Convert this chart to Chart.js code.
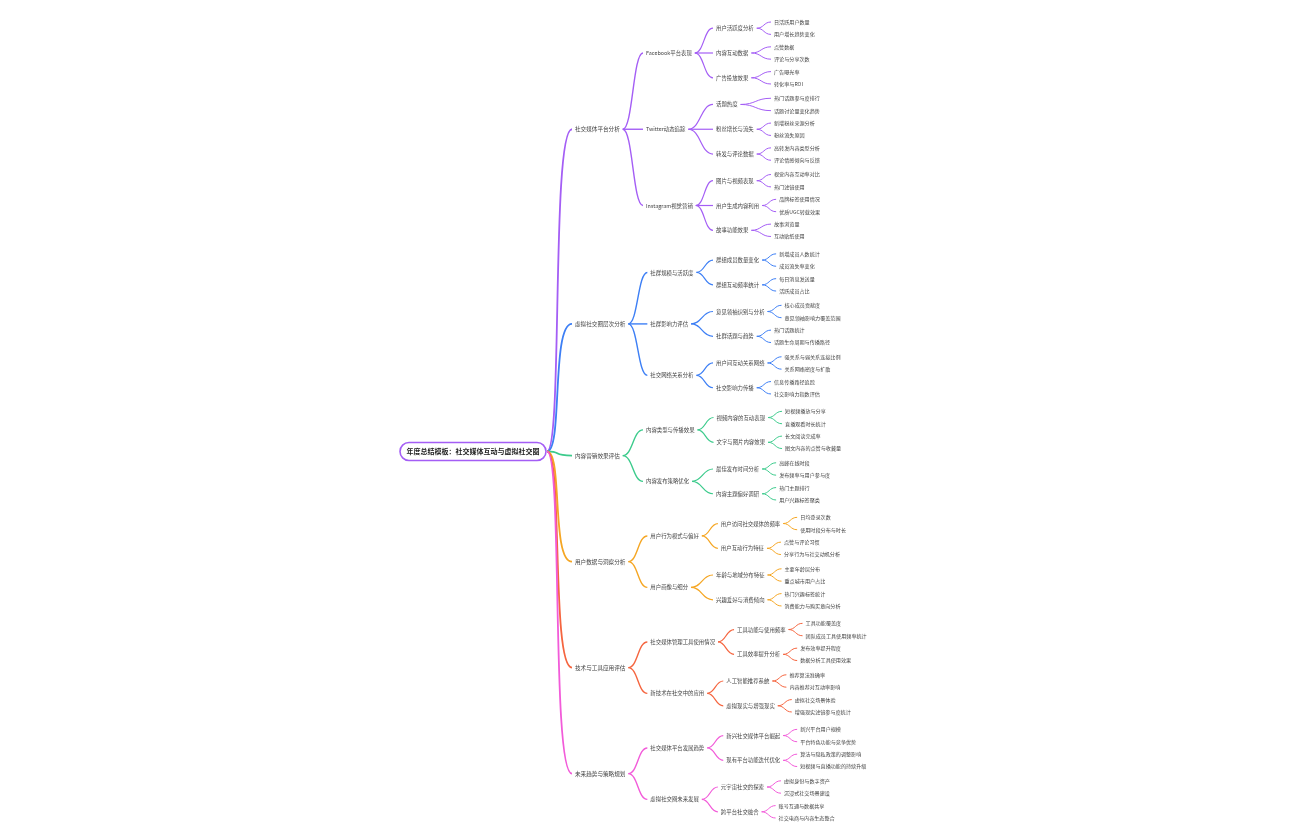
<!DOCTYPE html>
<html><head><meta charset="utf-8">
<script src="https://cdn.jsdelivr.net/npm/chart.js@4.4.1/dist/chart.umd.min.js"></script>
<style>html,body{margin:0;padding:0;background:#fff}#wrap{width:1297px;height:840px}</style>
</head><body><div id="wrap"><canvas id="c"></canvas></div>
<script>
const rootLabel = "年度总结模板：社交媒体互动与虚拟社交圈";
const branchLabels = ["社交媒体平台分析","虚拟社交圈层次分析","内容营销效果评估","用户数据与洞察分析","技术与工具应用评估","未来趋势与策略规划"];
const branchColors = ["#a45ef5","#3d7ff5","#3ccb8c","#f5a623","#f5653f","#f25bd9"];
const level2Labels = [
 ["Facebook平台表现","Twitter动态追踪","Instagram视觉营销"],
 ["社群规模与活跃度","社群影响力评估","社交网络关系分析"],
 ["内容类型与传播效果","内容发布策略优化"],
 ["用户行为模式与偏好","用户画像与细分"],
 ["社交媒体管理工具使用情况","新技术在社交中的应用"],
 ["社交媒体平台发展趋势","虚拟社交圈未来发展"]
];
const level3Labels = [
 [["用户活跃度分析","内容互动数据","广告投放效果"],["话题热度","粉丝增长与流失","转发与评论数据"],["图片与视频表现","用户生成内容利用","故事功能效果"]],
 [["群组成员数量变化","群组互动频率统计"],["意见领袖识别与分析","社群话题与趋势"],["用户间互动关系网络","社交影响力传播"]],
 [["视频内容的互动表现","文字与图片内容效果"],["最佳发布时间分析","内容主题偏好调研"]],
 [["用户访问社交媒体的频率","用户互动行为特征"],["年龄与地域分布特征","兴趣爱好与消费倾向"]],
 [["工具功能与使用频率","工具效率提升分析"],["人工智能推荐系统","虚拟现实与增强现实"]],
 [["新兴社交媒体平台崛起","现有平台功能迭代优化"],["元宇宙社交的探索","跨平台社交融合"]]
];
const leafLabels = [
 [[["日活跃用户数量","用户增长趋势变化"],["点赞数据","评论与分享次数"],["广告曝光率","转化率与ROI"]],
  [["热门话题参与度排行","话题讨论量变化趋势"],["新增粉丝来源分析","粉丝流失原因"],["高转发内容类型分析","评论情感倾向与反馈"]],
  [["视觉内容互动率对比","热门滤镜使用"],["品牌标签使用情况","优质UGC转载效果"],["故事浏览量","互动贴纸使用"]]],
 [[["新增成员人数统计","成员流失率变化"],["每日消息发送量","活跃成员占比"]],
  [["核心成员贡献度","意见领袖影响力覆盖范围"],["热门话题统计","话题生命周期与传播路径"]],
  [["强关系与弱关系连接比例","关系网络密度与扩散"],["信息传播路径追踪","社交影响力指数评估"]]],
 [[["短视频播放与分享","直播观看时长统计"],["长文阅读完成率","图文内容的点赞与收藏量"]],
  [["高峰在线时段","发布频率与用户参与度"],["热门主题排行","用户兴趣标签聚类"]]],
 [[["日均登录次数","使用时段分布与时长"],["点赞与评论习惯","分享行为与社交动机分析"]],
  [["主要年龄层分布","重点城市用户占比"],["热门兴趣标签统计","消费能力与购买意向分析"]]],
 [[["工具功能覆盖度","团队成员工具使用频率统计"],["发布效率提升程度","数据分析工具使用效果"]],
  [["推荐算法准确率","内容推荐对互动率影响"],["虚拟社交场景体验","增强现实滤镜参与度统计"]]],
 [[["新兴平台用户规模","平台特色功能与竞争优势"],["算法与隐私政策的调整影响","短视频与直播功能的持续升级"]],
  [["虚拟身份与数字资产","沉浸式社交场景建设"],["账号互通与数据共享","社交电商与内容生态整合"]]]
];

// layout (styling)
const depthX = [473, 575, 652, 722, 780];
const childGap = [0, 25, 22, 20];
const L2GAP = 0.15, BGAP = 0.4;
const FONT = '"Noto Sans CJK SC","Noto Sans",sans-serif';

let cursor = 0;
const nodes = []; const links = [];
function add(label, depth, y, color){ const n={label,depth,y,color,kids:[]}; nodes.push(n); return n; }
const branchNodes = [];
branchLabels.forEach((bl,bi)=>{
  if(bi>0) cursor += BGAP;
  const l2nodes=[];
  level2Labels[bi].forEach((l2,i2)=>{
    if(i2>0) cursor += L2GAP;
    const l3nodes=[];
    level3Labels[bi][i2].forEach((l3,i3)=>{
      const lf = leafLabels[bi][i2][i3].map(t=>{const n=add(t,4,cursor,branchColors[bi]); cursor+=1; return n;});
      const n3 = add(l3,3,(lf[0].y+lf[lf.length-1].y)/2,branchColors[bi]);
      n3.kids=lf; lf.forEach(c=>links.push([n3,c])); l3nodes.push(n3);
    });
    const n2 = add(l2,2,(l3nodes[0].y+l3nodes[l3nodes.length-1].y)/2,branchColors[bi]);
    n2.kids=l3nodes; l3nodes.forEach(c=>links.push([n2,c])); l2nodes.push(n2);
  });
  const n1 = add(bl,1,(l2nodes[0].y+l2nodes[l2nodes.length-1].y)/2,branchColors[bi]);
  n1.kids=l2nodes; l2nodes.forEach(c=>links.push([n1,c])); branchNodes.push(n1);
});
const total = cursor-1;
const rootNode = add(rootLabel,0,(branchNodes[0].y+branchNodes[branchNodes.length-1].y)/2,"#a45ef5");
rootNode.kids=branchNodes; branchNodes.forEach(c=>links.push([rootNode,c]));
const unit = (818-22)/total;
const yMin = -22/unit, yMax = (840-22)/unit;

const fontSize = [7,5.6,5.4,5.4,5.1];
const lineW = [1.8,1.4,1.2,1];

// horizontal placement from measured text widths
const mctx = document.createElement('canvas').getContext('2d');
nodes.forEach(n=>{mctx.font=(n.depth===0?'bold ':'')+fontSize[n.depth]+'px '+FONT; n.w=mctx.measureText(n.label).width;});
function place(n,x){ n.x=x; n.kids.forEach(k=>{ const nx = n.depth===0 ? depthX[1] : Math.max(depthX[k.depth]-6, x+n.w+childGap[n.depth]); place(k,nx); }); }
rootNode.x=depthX[0];
branchNodes.forEach(b=>place(b,depthX[1]));
const HALF=73;

const mindmap = {
  id:'mindmap',
  beforeDatasetsDraw(chart){
    const ctx=chart.ctx, xs=chart.scales.x, ys=chart.scales.y;
    ctx.save();
    links.forEach(([p,c])=>{
      const x1 = p.depth===0 ? xs.getPixelForValue(p.x)+HALF+1 : xs.getPixelForValue(p.x)+p.w+3;
      const y1 = ys.getPixelForValue(p.y);
      const x2 = xs.getPixelForValue(c.x)-3, y2 = ys.getPixelForValue(c.y);
      ctx.strokeStyle=c.color; ctx.lineWidth=lineW[p.depth];
      ctx.beginPath(); ctx.moveTo(x1,y1);
      if(p.depth===0){ ctx.bezierCurveTo(x1+16,y1,x1+4,y2,x2,y2); }
      else { const m=(x2-x1)*0.5; ctx.bezierCurveTo(x1+m,y1,x2-m,y2,x2,y2); }
      ctx.stroke();
    });
    ctx.restore();
  },
  afterDatasetsDraw(chart){
    const ctx=chart.ctx, xs=chart.scales.x, ys=chart.scales.y;
    ctx.save(); ctx.textBaseline='middle';
    nodes.forEach(n=>{
      const px=xs.getPixelForValue(n.x), py=ys.getPixelForValue(n.y);
      if(n.depth===0){
        const h=18;
        ctx.beginPath(); ctx.roundRect(px-HALF,py-h/2,HALF*2,h,9);
        ctx.fillStyle='#fff'; ctx.fill(); ctx.strokeStyle='#a45ef5'; ctx.lineWidth=1.6; ctx.stroke();
        ctx.font='bold 7px '+FONT; ctx.fillStyle='#222'; ctx.textAlign='center'; ctx.fillText(n.label,px,py);
      } else {
        ctx.font=fontSize[n.depth]+'px '+FONT; ctx.fillStyle='#444'; ctx.textAlign='left'; ctx.fillText(n.label,px,py);
      }
    });
    ctx.restore();
  }
};

new Chart(document.getElementById('c'),{
  type:'scatter',
  data:{datasets:[0,1,2,3,4].map(d=>({data:nodes.filter(n=>n.depth===d).map(n=>({x:n.x,y:n.y})),pointRadius:0,showLine:false}))},
  options:{responsive:true,maintainAspectRatio:false,animation:false,
    layout:{padding:0},
    plugins:{legend:{display:false},tooltip:{enabled:false}},
    scales:{x:{type:'linear',min:0,max:1297,display:false},y:{type:'linear',reverse:true,min:yMin,max:yMax,display:false}}},
  plugins:[mindmap]
});
</script></body></html>
